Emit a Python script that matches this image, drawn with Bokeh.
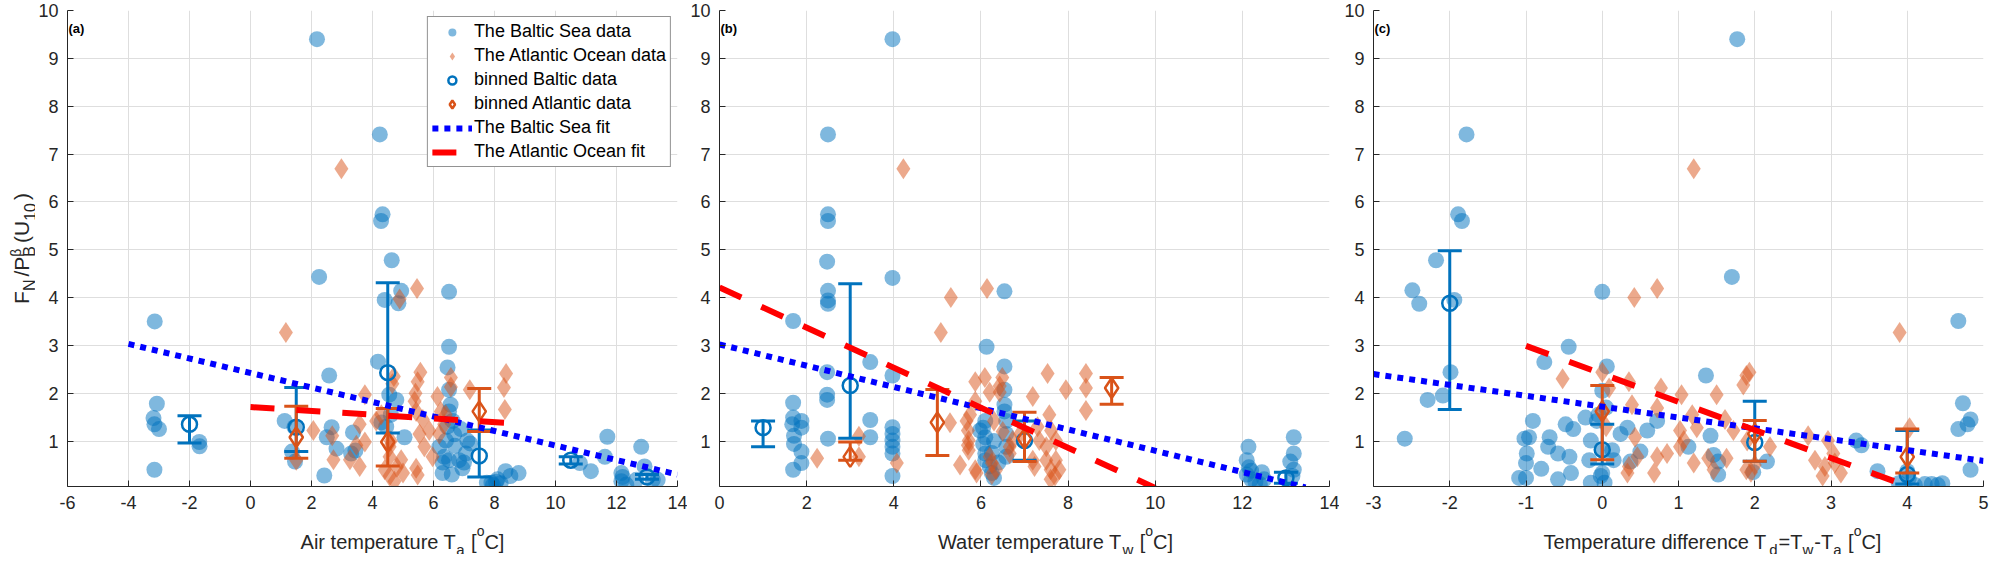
import math
from bokeh.plotting import figure
from bokeh.layouts import row, column
from bokeh.models import Range1d, FixedTicker, Label, Legend, LegendItem
from bokeh.embed import file_html
from bokeh.resources import INLINE

# ---------------- data ----------------
Y_TICKS = [1, 2, 3, 4, 5, 6, 7, 8, 9, 10]

# (a) air temperature
a_ticks = [-6, -4, -2, 0, 2, 4, 6, 8, 10, 12, 14]
a_baltic_x = [-3.14, -3.07, -3.18, -3.15, -3.00, -3.15, -1.68, -1.67,
              2.18, 4.24, 4.33, 4.28, 4.63, 2.25,
              4.94, 4.40, 4.85, 6.51, 6.51, 6.46, 4.18, 2.58,
              4.55, 4.78, 6.51, 6.56, 6.51, 1.12, 1.44, 1.36, 1.46,
              2.50, 2.66, 2.82, 2.42, 3.36, 3.30, 3.44, 4.29, 5.05,
              6.19, 6.35, 6.30, 6.51, 6.84, 7.06, 7.11, 6.95, 6.68, 6.63, 6.41,
              4.60, 4.45, 6.90, 7.20, 7.00, 6.30, 6.45, 6.60, 6.70,
              7.75, 7.90, 8.05, 7.95, 8.20, 8.36, 8.79, 8.52, 8.10,
              11.70, 11.62, 11.16, 10.80, 12.81, 12.92, 12.16, 12.16, 12.32, 12.65, 13.19, 13.35, 12.20]
a_baltic_y = [3.50, 1.78, 1.48, 1.35, 1.25, 0.40, 0.98, 0.89,
              9.40, 7.41, 5.74, 5.60, 4.78, 4.43,
              4.14, 3.95, 3.88, 4.12, 2.97, 2.54, 2.66, 2.37,
              1.97, 1.86, 2.07, 1.76, 1.62, 1.42, 1.29, 0.78, 0.57,
              1.08, 1.29, 0.84, 0.28, 1.18, 0.74, 0.80, 1.39, 1.08,
              0.88, 0.67, 0.33, 0.60, 0.60, 0.74, 1.01, 0.43, 1.14, 1.42, 1.01,
              1.55, 1.30, 1.25, 0.95, 0.55, 0.55, 1.30, 0.30, 0.90,
              0.13, 0.13, 0.15, 0.08, 0.12, 0.37, 0.33, 0.27, 0.20,
              1.09, 0.67, 0.37, 0.54, 0.88, 0.47, 0.33, 0.16, 0.09, 0.19, 0.19, 0.19, 0.25]
a_atl_x = [1.16, 2.98, 5.46, 4.89, 5.57, 5.48, 5.41, 6.57, 6.57, 7.19, 8.38, 8.31, 8.34,
           3.75, 4.65, 6.13, 5.38, 5.43, 2.06, 2.68, 3.58, 3.75, 3.47, 2.72, 3.26, 3.58,
           4.12, 4.29, 4.56, 4.56, 4.40, 4.56, 4.72, 4.94, 5.00, 5.43, 5.48, 5.54, 5.70,
           5.86, 5.97, 6.19, 6.35, 6.24, 6.40, 5.65, 1.50, 4.70, 4.60, 4.80]
a_atl_y = [3.27, 6.69, 4.19, 3.97, 2.44, 2.24, 2.00, 2.33, 2.13, 2.07, 2.41, 2.12, 1.66,
           1.97, 2.20, 1.93, 1.83, 1.62, 1.22, 1.11, 1.35, 0.98, 0.91, 0.61, 0.61, 0.47,
           1.42, 1.55, 0.88, 0.67, 0.40, 0.27, 0.16, 0.61, 0.33, 0.43, 0.29, 1.15, 0.88,
           1.22, 0.67, 1.15, 1.35, 1.62, 1.55, 1.45, 0.60, 2.35, 1.00, 0.45]
a_bin_baltic_x = [-2, 1.5, 4.5, 7.5, 10.5, 13]
a_bin_baltic_y = [1.35, 1.29, 2.43, 0.69, 0.60, 0.25]
a_bin_baltic_lo = [0.96, 0.78, 1.17, 0.25, 0.52, 0.20]
a_bin_baltic_hi = [1.53, 2.12, 4.31, 1.23, 0.67, 0.30]
a_bin_atl_x = [1.5, 4.5, 7.5]
a_bin_atl_y = [1.08, 0.98, 1.62]
a_bin_atl_lo = [0.64, 0.48, 1.20]
a_bin_atl_hi = [1.73, 1.68, 2.10]
a_fit_baltic_x = [-4, 14]
a_fit_baltic_y = [3.03, 0.30]
a_fit_atl_x = [0, 8.58]
a_fit_atl_y = [1.71, 1.37]

# (b) water temperature
b_ticks = [0, 2, 4, 6, 8, 10, 12, 14]
b_baltic_x = [3.97, 2.49, 2.49, 2.49, 2.47, 3.97,
              2.49, 2.49, 2.49, 1.69, 3.46, 3.97, 2.47, 2.47, 2.47,
              1.69, 1.69, 1.67, 1.88, 1.88, 1.71, 1.71, 1.88, 1.88, 1.69,
              2.49, 3.46, 3.46, 3.97, 3.97, 3.97, 3.97, 3.97, 3.97,
              6.13, 6.54, 6.54, 6.54, 6.54, 6.54, 6.58, 6.58, 6.58, 6.58,
              6.10, 6.05, 6.10, 6.05, 6.10, 6.10, 6.20, 6.25, 6.30, 5.98, 6.30, 6.25, 6.40,
              12.14, 12.10, 12.15, 12.10, 12.20, 12.30, 12.45, 12.50, 12.40, 12.20,
              13.18, 13.18, 13.10, 13.18, 13.15]
b_baltic_y = [9.40, 7.41, 5.74, 5.60, 4.75, 4.41,
              4.14, 3.94, 3.87, 3.51, 2.65, 2.37, 2.44, 1.97, 1.86,
              1.80, 1.49, 1.35, 1.42, 1.28, 1.11, 0.94, 0.78, 0.54, 0.40,
              1.05, 1.44, 1.08, 1.29, 1.15, 1.01, 0.88, 0.74, 0.27,
              2.97, 4.13, 2.56, 2.07, 1.76, 1.62, 1.42, 1.15, 0.88, 0.67,
              1.42, 1.28, 1.08, 0.94, 0.74, 0.60, 0.47, 0.33, 0.23, 1.22, 1.00, 0.75, 0.55,
              0.88, 0.60, 0.45, 0.30, 0.20, 0.15, 0.35, 0.20, 0.10, 0.38,
              1.08, 0.74, 0.57, 0.40, 0.27]
b_atl_x = [4.22, 6.14, 5.31, 5.08, 5.87, 6.09, 6.49, 6.43, 6.43, 6.20, 7.53, 8.41, 8.41,
           8.41, 7.95, 7.19, 5.87, 5.67, 5.75, 5.29, 5.70, 5.72, 5.70, 5.72, 5.52, 5.87,
           5.90, 6.20, 6.25, 6.35, 6.25, 6.66, 6.66, 6.73, 7.34, 7.50, 7.57, 7.61, 7.72,
           7.19, 7.23, 7.50, 7.60, 7.72, 7.80, 7.70, 7.60, 2.24, 3.20, 3.20, 4.07, 6.30,
           6.50, 7.30, 6.90]
b_atl_y = [6.69, 4.19, 4.00, 3.27, 2.24, 2.33, 2.33, 2.15, 2.02, 2.02, 2.41, 2.41, 2.11,
           1.64, 2.07, 1.93, 1.83, 1.42, 1.55, 1.38, 1.22, 1.01, 0.91, 0.81, 0.50, 0.40,
           0.33, 0.67, 0.54, 0.40, 0.30, 0.88, 0.74, 1.01, 1.01, 0.88, 1.55, 1.22, 1.01,
           0.60, 0.47, 0.60, 0.40, 0.60, 0.40, 0.27, 0.20, 0.64, 1.10, 0.67, 0.54, 1.42,
           1.20, 1.30, 1.15]
b_bin_baltic_x = [1, 3, 7, 13]
b_bin_baltic_y = [1.28, 2.16, 1.01, 0.23]
b_bin_baltic_lo = [0.88, 1.06, 0.60, 0.12]
b_bin_baltic_hi = [1.42, 4.29, 1.42, 0.35]
b_bin_atl_x = [3, 5, 7, 9]
b_bin_atl_y = [0.67, 1.39, 1.05, 2.11]
b_bin_atl_lo = [0.60, 0.70, 0.57, 1.77]
b_bin_atl_hi = [0.98, 2.08, 1.60, 2.33]
b_fit_baltic_x = [0, 13.45]
b_fit_baltic_y = [3.02, 0.03]
b_fit_atl_x = [0, 10.0]
b_fit_atl_y = [4.21, 0.02]

# (c) temperature difference
c_ticks = [-3, -2, -1, 0, 1, 2, 3, 4, 5]
c_baltic_x = [1.77, -1.78, -1.89, -1.84, -2.18, 1.70, 0.00, -2.49, -2.40, -1.94, -0.44, -0.76,
              0.06, 1.36, 4.67, 4.73, 4.83, 4.79, 4.67, 4.83, -1.99, -2.29, -2.09, -2.59,
              -0.91, -1.02, -0.96, -0.99, -1.00, -1.09, -1.00, -0.80, -0.69, -0.71, -0.58, -0.58,
              -0.43, -0.41, -0.48, -0.38, -0.22, -0.15, -0.17, -0.15, -0.07, 0.00, 0.00, -0.02,
              0.03, 0.13, 0.15, 0.24, 0.33, 0.37, 0.50, 0.59, 0.72, 1.13, 1.42, 1.46, 1.52, 1.52,
              1.98, 2.16, 3.33, 3.40, 3.61, 3.89, 4.02, 4.10, 4.23, 4.32, 4.46, 4.40, 4.00,
              0.05, -0.05, 0.00]
c_baltic_y = [9.40, 7.41, 5.74, 5.60, 4.78, 4.43, 4.12, 4.15, 3.87, 3.95, 2.97, 2.65,
              2.56, 2.37, 3.51, 1.79, 1.45, 1.35, 1.25, 0.40, 2.44, 1.86, 1.95, 1.05,
              1.42, 1.05, 1.08, 0.74, 0.54, 0.23, 0.23, 0.42, 1.08, 0.88, 0.74, 0.20,
              0.67, 0.33, 1.35, 1.25, 1.49, 1.01, 0.60, 0.13, 1.42, 0.81, 0.33, 0.27,
              0.13, 0.81, 0.60, 1.15, 1.28, 0.57, 0.78, 1.22, 1.42, 0.88, 1.11, 0.71, 0.57, 0.30,
              0.35, 0.57, 1.01, 0.91, 0.37, 0.12, 0.22, 0.08, 0.10, 0.10, 0.12, 0.08, 0.37,
              1.70, 1.55, 2.05]
c_atl_x = [1.20, 0.72, 0.42, 3.90, -0.52, 0.00, 0.09, 0.35, 0.77, 1.89, 1.85, 1.93, 1.04,
           1.50, 0.39, 0.72, 1.18, 1.61, 1.02, 1.24, 1.07, 1.02, 0.43, 0.46, 0.35, 0.33,
           0.72, 0.68, 0.85, 1.20, 1.39, 1.46, 1.63, 1.72, 1.89, 2.20, 2.70, 2.79, 2.92,
           2.89, 3.03, 3.05, 3.13, 2.96, 4.03, 0.00, 1.90, 2.00, 1.95, 0.05]
c_atl_y = [6.69, 4.19, 4.00, 3.27, 2.30, 2.44, 2.11, 2.24, 2.11, 2.37, 2.17, 2.44, 1.97,
           1.97, 1.76, 1.69, 1.55, 1.45, 1.22, 1.28, 1.01, 0.88, 1.08, 0.67, 0.47, 0.33,
           0.67, 0.33, 0.74, 0.54, 0.64, 0.40, 0.64, 1.22, 0.40, 0.88, 1.11, 0.60, 0.47,
           0.27, 0.74, 0.54, 0.33, 1.01, 1.28, 1.60, 1.00, 0.50, 0.35, 1.30]
c_bin_baltic_x = [-2, 0, 2, 4]
c_bin_baltic_y = [3.88, 0.82, 0.97, 0.30]
c_bin_baltic_lo = [1.66, 0.52, 0.58, 0.10]
c_bin_baltic_hi = [4.98, 1.35, 1.83, 1.22]
c_bin_atl_x = [0, 2, 4]
c_bin_atl_y = [1.62, 1.15, 0.67]
c_bin_atl_lo = [0.61, 0.58, 0.33]
c_bin_atl_hi = [2.16, 1.43, 1.25]
c_fit_baltic_x = [-3, 5]
c_fit_baltic_y = [2.40, 0.585]
c_fit_atl_x = [-1, 4.05]
c_fit_atl_y = [2.99, 0.03]

# ---------------- styling ----------------
BLUE = "#0072BD"
ORANGE = "#D95319"
FONT = "Liberation Sans"
AX = "#262626"
FW, FH = 610, 476
TOP, BOTTOM = 10, 31          # borders of each panel
STRIP_H = 37                  # strip under each panel holding the x title
YLAB_W = 35                   # strip left of panel (a) holding the y title

# Arial/Liberation Sans advance widths (per 1000 em), for placing sub/superscripts
CHAR_W = {" ": 278, "A": 667, "B": 667, "C": 722, "F": 611, "N": 722, "P": 667, "T": 611,
          "U": 722, "W": 944, "a": 556, "c": 500, "d": 556, "e": 556, "f": 278, "i": 222,
          "m": 833, "n": 556, "o": 556, "p": 556, "r": 333, "t": 278, "u": 556, "w": 722,
          "[": 278, "]": 278, "(": 333, ")": 333, "/": 278, "=": 584, "-": 333,
          "0": 556, "1": 556, "\u03b2": 570}


def text_w(s, size):
    return sum(CHAR_W.get(ch, 556) for ch in s) * size / 1000.0


def put_text(p, pieces, x, y, vertical=False):
    # pieces: (text, font px, baseline shift (+ = down), extra gap px or None = no advance)
    total = sum(text_w(t, s) + g for t, s, _, g in pieces if g is not None)
    cur = -total / 2
    for t, s, shift, gap in pieces:
        if t.strip():
            kw = dict(text=t, text_font=FONT, text_font_size=f"{s}px", text_color=AX,
                      text_align="left", text_baseline="alphabetic",
                      x_units="screen", y_units="screen")
            if vertical:
                lab = Label(x=x + shift, y=y + cur, angle=math.pi / 2, **kw)
            else:
                lab = Label(x=x + cur, y=y - shift, **kw)
            p.add_layout(lab)
        if gap is not None:
            cur += text_w(t, s) + gap


def blank(width, height):
    b = figure(width=width, height=height, x_range=Range1d(0, 1), y_range=Range1d(0, 1),
               x_axis_type=None, y_axis_type=None, toolbar_location=None,
               output_backend="svg", outline_line_color=None, min_border=0,
               background_fill_color="white", border_fill_color="white")
    b.grid.visible = False
    return b


def xlabel_strip(parts, left, right):
    pieces = []
    for kind, t in parts:
        if kind == "m":
            pieces.append((t, 20, 0, 0))
        elif kind == "sub":
            pieces.append((t, 15, 8, 1))
        else:
            pieces.append((t, 14, -11, 0))
    s = blank(left + FW + right, STRIP_H)
    put_text(s, pieces, left + FW / 2, 13)
    return s


def make_panel(tag, xr, ticks, bx, by, ax, ay, bbx, bby, bblo, bbhi,
               bax, bay, balo, bahi, fbx, fby, fax, fay, left, right):
    p = figure(frame_width=FW, frame_height=FH, x_range=Range1d(*xr),
               y_range=Range1d(0.05, 10), output_backend="svg", toolbar_location=None,
               min_border_left=left, min_border_right=right, min_border_top=TOP,
               min_border_bottom=BOTTOM, outline_line_color=None,
               background_fill_color="white", border_fill_color="white")

    r_b = p.scatter(bx, by, marker="circle", size=16, fill_color=BLUE, fill_alpha=0.5,
                    line_color=None)
    r_a = p.scatter(ax, ay, marker="diamond", size=21, fill_color=ORANGE, fill_alpha=0.5,
                    line_color=None)

    # binned data with error bars
    p.segment(x0=bbx, y0=bblo, x1=bbx, y1=bbhi, line_color=BLUE, line_width=3)
    p.scatter(bbx + bbx, bblo + bbhi, marker="dash", size=24, line_color=BLUE, line_width=3)
    r_bb = p.scatter(bbx, bby, marker="circle", size=15, fill_color=None,
                     line_color=BLUE, line_width=2.5)
    p.segment(x0=bax, y0=balo, x1=bax, y1=bahi, line_color=ORANGE, line_width=3)
    p.scatter(bax + bax, balo + bahi, marker="dash", size=24, line_color=ORANGE, line_width=3)
    r_ba = p.scatter(bax, bay, marker="diamond", size=20, fill_color=None,
                     line_color=ORANGE, line_width=2.5)

    # fits
    r_fb = p.line(fbx, fby, line_color="#0000FF", line_width=6, line_dash="6 6")
    r_fa = p.line(fax, fay, line_color="#FF0000", line_width=6, line_dash="24 22")

    p.xaxis.ticker = FixedTicker(ticks=ticks)
    p.xaxis.major_label_overrides = {t: str(t) for t in ticks}
    p.yaxis.ticker = FixedTicker(ticks=Y_TICKS)
    p.yaxis.major_label_overrides = {t: str(t) for t in Y_TICKS}
    p.axis.minor_tick_line_color = None
    p.axis.major_tick_in = 6
    p.axis.major_tick_out = 0
    p.axis.axis_line_color = AX
    p.axis.major_tick_line_color = AX
    p.axis.major_label_text_font = FONT
    p.axis.major_label_text_font_size = "18px"
    p.axis.major_label_text_color = AX
    p.xaxis.major_label_standoff = 9
    p.yaxis.major_label_standoff = 9
    p.grid.grid_line_color = "#dedede"

    p.add_layout(Label(x=1, y=FH - 18, x_units="screen", y_units="screen", text=tag,
                       text_font=FONT, text_font_style="bold", text_font_size="13px",
                       text_baseline="middle", text_color="black"))
    return p, (r_b, r_a, r_bb, r_ba, r_fb, r_fa)


pa, ra = make_panel("(a)", (-6, 14), a_ticks, a_baltic_x, a_baltic_y, a_atl_x, a_atl_y,
                    a_bin_baltic_x, a_bin_baltic_y, a_bin_baltic_lo, a_bin_baltic_hi,
                    a_bin_atl_x, a_bin_atl_y, a_bin_atl_lo, a_bin_atl_hi,
                    a_fit_baltic_x, a_fit_baltic_y, a_fit_atl_x, a_fit_atl_y, 30, 10)
pb, _ = make_panel("(b)", (0, 14), b_ticks, b_baltic_x, b_baltic_y, b_atl_x, b_atl_y,
                   b_bin_baltic_x, b_bin_baltic_y, b_bin_baltic_lo, b_bin_baltic_hi,
                   b_bin_atl_x, b_bin_atl_y, b_bin_atl_lo, b_bin_atl_hi,
                   b_fit_baltic_x, b_fit_baltic_y, b_fit_atl_x, b_fit_atl_y, 31, 10)
pc, _ = make_panel("(c)", (-3, 5), c_ticks, c_baltic_x, c_baltic_y, c_atl_x, c_atl_y,
                   c_bin_baltic_x, c_bin_baltic_y, c_bin_baltic_lo, c_bin_baltic_hi,
                   c_bin_atl_x, c_bin_atl_y, c_bin_atl_lo, c_bin_atl_hi,
                   c_fit_baltic_x, c_fit_baltic_y, c_fit_atl_x, c_fit_atl_y, 34, 6)

sa = xlabel_strip([("m", "Air temperature T"), ("sub", "a"), ("m", " "), ("m", "["),
                   ("sup", "o"), ("m", "C]")], 30, 10)
sb = xlabel_strip([("m", "Water temperature T"), ("sub", "w"), ("m", " "), ("m", "["),
                   ("sup", "o"), ("m", "C]")], 31, 10)
sc = xlabel_strip([("m", "Temperature difference T"), ("sub", "d"), ("m", "=T"), ("sub", "w"),
                   ("m", "-T"), ("sub", "a"), ("m", " "), ("m", "["), ("sup", "o"),
                   ("m", "C]")], 34, 6)

# y title of panel (a): F_N / P^beta_B (U_10)
panel_h = TOP + FH + BOTTOM
ylab = blank(YLAB_W, panel_h + STRIP_H)
put_text(ylab, [("F", 21, 0, 0), ("N", 16, 8, 3), ("/P", 21, 0, 0),
                ("\u03b2", 14, -6, None), ("B", 16, 8, 3), ("(U", 21, 0, 0),
                ("10", 16, 8, 3), (")", 21, 0, 0)],
         21, STRIP_H + BOTTOM + FH / 2, vertical=True)

legend = Legend(items=[
    LegendItem(label="The Baltic Sea data", renderers=[ra[0]]),
    LegendItem(label="The Atlantic Ocean data", renderers=[ra[1]]),
    LegendItem(label="binned Baltic data", renderers=[ra[2]]),
    LegendItem(label="binned Atlantic data", renderers=[ra[3]]),
    LegendItem(label="The Baltic Sea fit", renderers=[ra[4]]),
    LegendItem(label="The Atlantic Ocean fit", renderers=[ra[5]]),
], location="top_right", margin=6, padding=4, spacing=3, glyph_width=40, glyph_height=20,
    label_height=20, label_standoff=2, label_text_font=FONT, label_text_font_size="18px",
    label_text_color="black", border_line_color=AX, border_line_width=1,
    background_fill_color="white", background_fill_alpha=1.0)
pa.add_layout(legend)

layout = row(ylab, column(pa, sa), column(pb, sb), column(pc, sc))
open("out.html", "w").write(file_html(layout, INLINE))
